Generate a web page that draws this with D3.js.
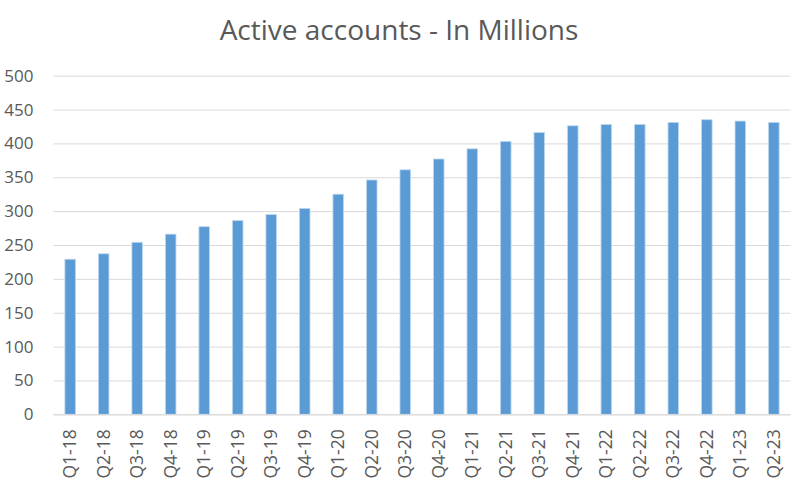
<!DOCTYPE html>
<html>
<head>
<meta charset="utf-8">
<script src="https://cdn.jsdelivr.net/npm/d3@7"></script>
<style>
  html, body { margin: 0; padding: 0; background: #fff; }
  svg { display: block; }
  text { font-family: "Open Sans", sans-serif; fill: #595959; }
</style>
</head>
<body>
<svg id="chart" width="792" height="491"></svg>
<script>
const title = "Active accounts - In Millions";
const categories = ["Q1-18","Q2-18","Q3-18","Q4-18","Q1-19","Q2-19","Q3-19","Q4-19",
  "Q1-20","Q2-20","Q3-20","Q4-20","Q1-21","Q2-21","Q3-21","Q4-21",
  "Q1-22","Q2-22","Q3-22","Q4-22","Q1-23","Q2-23"];
const values = [229, 237, 254, 266, 277, 286, 295, 304, 325, 346, 361, 377,
  392, 403, 416, 426, 428, 428, 431, 435, 433, 431];
const yTicks = [0, 50, 100, 150, 200, 250, 300, 350, 400, 450, 500];

const svg = d3.select("#chart");
const mLeft = 53.5, mRight = 790.5, mTop = 75.7, mBottom = 414.3;
const FONT = "'Open Sans', sans-serif";

const x = d3.scaleBand().domain(categories).range([mLeft, mRight]).paddingInner(0.685).paddingOuter(0.34);
const y = d3.scaleLinear().domain([0, 500]).range([mBottom, mTop]);

// gridlines
const yAxis = d3.axisLeft(y).tickValues(yTicks).tickSize(-(mRight - mLeft)).tickPadding(20);
const gy = svg.append("g").attr("transform", `translate(${mLeft},0)`).call(yAxis);
gy.select(".domain").remove();
gy.selectAll(".tick line").attr("stroke", "#d9d9d9").attr("stroke-width", 1);
gy.selectAll(".tick text").attr("font-size", 17).style("fill", "#595959")
  .attr("font-family", FONT);

// bars
svg.append("g").selectAll("rect").data(values).join("rect")
  .attr("x", (d, i) => x(categories[i]))
  .attr("width", x.bandwidth())
  .attr("y", d => y(d))
  .attr("height", d => y(0) - y(d))
  .attr("fill", "#5b9bd5")
  .attr("stroke", "#bdd7ee")
  .attr("stroke-width", 0.8);

// x axis
const xAxis = d3.axisBottom(x).tickSize(0).tickPadding(0);
const gx = svg.append("g").attr("transform", `translate(0,${mBottom})`).call(xAxis);
gx.select(".domain").attr("stroke", "#d9d9d9").attr("d", `M${mLeft},0.5H${mRight}`);
gx.selectAll(".tick text")
  .attr("font-size", 17.5)
  .attr("font-family", FONT)
  .style("fill", "#595959")
  .attr("text-anchor", "end")
  .attr("dy", null)
  .attr("y", 0)
  .attr("transform", "translate(6,15) rotate(-90)");

// title
svg.append("text")
  .attr("x", 399).attr("y", 39.5)
  .attr("text-anchor", "middle")
  .attr("font-size", 28)
  .attr("font-family", FONT)
  .style("fill", "#595959")
  .text(title);
</script>
</body>
</html>
